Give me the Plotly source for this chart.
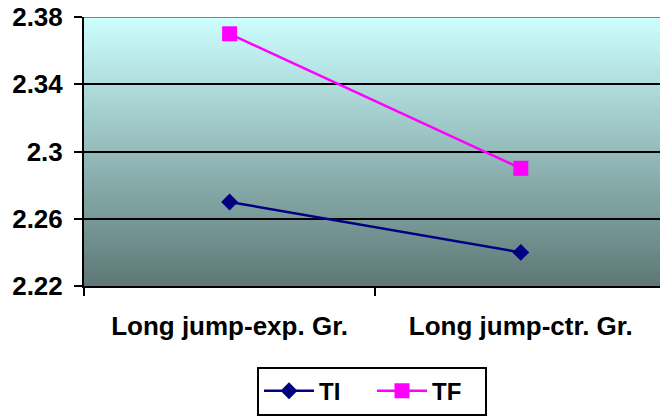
import base64
import struct
import zlib

import plotly.graph_objects as go

categories = ["Long jump-exp. Gr.", "Long jump-ctr. Gr."]
ti_values = [2.27, 2.24]
tf_values = [2.37, 2.29]
y_ticks = [2.22, 2.26, 2.30, 2.34, 2.38]
y_tick_text = ["2.22", "2.26", "2.3", "2.34", "2.38"]

FONT = "Arial"


def gradient_png(h, top, bot):
    raw = b""
    for i in range(h):
        t = i / (h - 1)
        c = bytes(round(top[k] + (bot[k] - top[k]) * t) for k in range(3))
        raw += b"\x00" + c
    def chunk(tag, data):
        return struct.pack(">I", len(data)) + tag + data + struct.pack(">I", zlib.crc32(tag + data) & 0xFFFFFFFF)
    png = b"\x89PNG\r\n\x1a\n"
    png += chunk(b"IHDR", struct.pack(">IIBBBBB", 1, h, 8, 2, 0, 0, 0))
    png += chunk(b"IDAT", zlib.compress(raw))
    png += chunk(b"IEND", b"")
    return "data:image/png;base64," + base64.b64encode(png).decode()


fig = go.Figure()
fig.add_trace(go.Scatter(
    x=categories, y=ti_values, name="TI", mode="lines+markers",
    line=dict(color="#000080", width=2.5),
    marker=dict(symbol="diamond", size=13, color="#000080"),
))
fig.add_trace(go.Scatter(
    x=categories, y=tf_values, name="TF", mode="lines+markers",
    line=dict(color="#FF00FF", width=2.5),
    marker=dict(symbol="square", size=15, color="#FF00FF"),
))

fig.add_layout_image(dict(
    source=gradient_png(256, (204, 255, 255), (93, 120, 118)),
    xref="paper", yref="paper", x=0, y=1, sizex=1, sizey=1,
    sizing="stretch", xanchor="left", yanchor="top", layer="below",
))

fig.add_shape(type="line", xref="paper", yref="y", x0=0, x1=1, y0=2.38, y1=2.38,
              line=dict(color="#808080", width=2), layer="above")

fig.update_layout(
    width=660, height=417,
    margin=dict(l=84, r=0, t=17, b=131),
    paper_bgcolor="white", plot_bgcolor="white",
    font=dict(family=FONT, size=26, color="black", weight="bold"),
    showlegend=True,
    legend=dict(
        orientation="h", x=0.5, xanchor="center", y=-0.3, yanchor="top",
        bordercolor="black", borderwidth=2, bgcolor="white",
        font=dict(family=FONT, size=24, color="black", weight="bold"),
        itemwidth=50, tracegroupgap=0,
        entrywidth=48, entrywidthmode="pixels",
    ),
    xaxis=dict(
        type="category", range=[-0.5, 1.478],
        tickson="boundaries", ticks="outside", ticklen=8, tickwidth=2, tickcolor="black",
        showline=True, linecolor="black", linewidth=2,
        showgrid=False, ticklabelstandoff=16,
        tickfont=dict(family=FONT, size=26, color="black", weight="bold"),
    ),
    yaxis=dict(
        range=[2.22, 2.38], tickvals=y_ticks, ticktext=y_tick_text,
        ticks="outside", ticklen=8, tickwidth=2, tickcolor="black",
        showline=True, linecolor="black", linewidth=2,
        showgrid=True, gridcolor="black", gridwidth=2,
        zeroline=False, ticklabelstandoff=6,
        tickfont=dict(family=FONT, size=26, color="black", weight="bold"),
    ),
)

fig.write_html("out.html")
